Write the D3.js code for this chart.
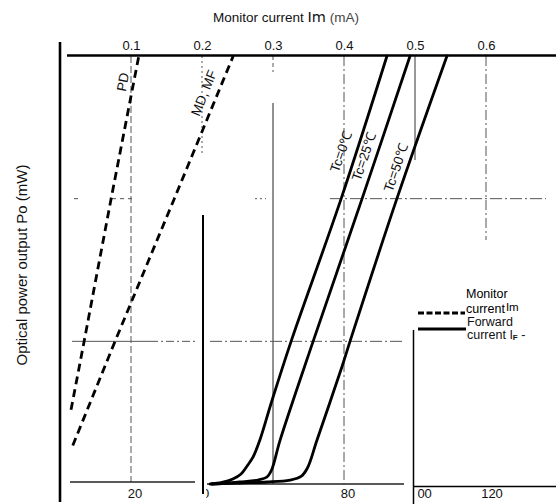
<!DOCTYPE html>
<html>
<head>
<meta charset="utf-8">
<script src="https://cdn.jsdelivr.net/npm/d3@7"></script>
<style>
  html, body { margin: 0; padding: 0; background: #fff; }
  svg { display: block; font-family: "Liberation Sans", Arial, Helvetica, sans-serif; }
</style>
</head>
<body>
<svg id="chart" width="556" height="504"></svg>
<script>
// ---- Data ----
// Monitor current Im (mA) tick labels on the top axis
const imTicks = [0.1, 0.2, 0.3, 0.4, 0.5, 0.6];
// Forward current IF (mA) tick labels on the bottom axis pieces
const ifTicksLeft = [20];
const ifTicksMid = [40, 80];
const ifTicksRight = [100, 120];
// Optical power output Po (mW) grid levels
const poGrid = [1, 2];

// Forward current curves: [IF mA, Po mW]
const tc0 = [[42.3,0],[45.6,0.011],[48.7,0.035],[51.0,0.07],[52.7,0.126],[54.4,0.19],[56.3,0.308],[59.5,0.568],[65.1,1.0],[79.2,2.0],[92.1,3.0]];
const tc25 = [[42.8,0],[50.7,0.014],[55.8,0.028],[58.3,0.049],[59.6,0.098],[62.0,0.308],[71.3,1.0],[85.1,2.0],[98.6,3.0]];
const tc50 = [[42.8,0],[50.7,0.007],[58.3,0.014],[64.8,0.028],[67.9,0.053],[69.7,0.112],[72.4,0.308],[79.4,0.82],[81.7,1.0],[94.9,2.0],[109.0,3.0]];
// Monitor current lines: [Im mA, Po mW]
const pd = [[0.0155,0.52],[0.034,1.0],[0.072,2.0],[0.111,3.0]];
const mdmf = [[0.018,0.27],[0.0775,1.0],[0.161,2.0],[0.244,3.0]];

const curveLabels = ["Tc=0℃", "Tc=25℃", "Tc=50℃"];

// ---- Scales ----
const xIm = d3.scaleLinear().domain([0, 0.7]).range([60, 557]);
const xIF = d3.scaleLinear().domain([0, 140]).range([60, 557]);
const yPo = d3.scaleLinear().domain([0, 3]).range([484, 56]);

const svg = d3.select("#chart");
const defs = svg.append("defs");
defs.append("clipPath").attr("id", "clipMid").append("rect").attr("x", 206.2).attr("y", 486).attr("width", 200).attr("height", 18);
defs.append("clipPath").attr("id", "clipRight").append("rect").attr("x", 417.5).attr("y", 486).attr("width", 140).attr("height", 18);

const grid = svg.append("g").attr("stroke", "#555").attr("stroke-width", 1).attr("fill", "none");

// vertical grid pieces
grid.append("line").attr("x1", xIm(0.1)).attr("x2", xIm(0.1)).attr("y1", 56).attr("y2", 482).attr("stroke-dasharray", "7,3");
grid.append("line").attr("x1", xIm(0.2)).attr("x2", xIm(0.2)).attr("y1", 56).attr("y2", 155).attr("stroke-dasharray", "2,3");
grid.append("line").attr("x1", xIm(0.3)).attr("x2", xIm(0.3)).attr("y1", 56).attr("y2", 72).attr("stroke-dasharray", "4,3");
grid.append("line").attr("x1", xIm(0.3)).attr("x2", xIm(0.3)).attr("y1", 103).attr("y2", 484).attr("stroke", "#222");
grid.append("line").attr("x1", xIm(0.4)).attr("x2", xIm(0.4)).attr("y1", 56).attr("y2", 484).attr("stroke-dasharray", "10,3,2,3");
grid.append("line").attr("x1", xIm(0.5)).attr("x2", xIm(0.5)).attr("y1", 56).attr("y2", 160).attr("stroke", "#333");
grid.append("line").attr("x1", xIm(0.6)).attr("x2", xIm(0.6)).attr("y1", 56).attr("y2", 240).attr("stroke-dasharray", "10,3,2,3");

// horizontal grid pieces
grid.append("line").attr("x1", 330).attr("x2", 546).attr("y1", yPo(poGrid[1])).attr("y2", yPo(poGrid[1])).attr("stroke-dasharray", "12,3,2,3");
grid.append("line").attr("x1", 255).attr("x2", 266).attr("y1", yPo(poGrid[1])).attr("y2", yPo(poGrid[1])).attr("stroke-dasharray", "2,3");
grid.append("line").attr("x1", 74).attr("x2", 78).attr("y1", yPo(poGrid[1])).attr("y2", yPo(poGrid[1]));
grid.append("line").attr("x1", 112).attr("x2", 134).attr("y1", yPo(poGrid[1])).attr("y2", yPo(poGrid[1])).attr("stroke-dasharray", "4,4");
grid.append("line").attr("x1", 72).attr("x2", 150).attr("y1", yPo(poGrid[0])).attr("y2", yPo(poGrid[0]));
grid.append("line").attr("x1", 150).attr("x2", 195).attr("y1", yPo(poGrid[0])).attr("y2", yPo(poGrid[0])).attr("stroke-dasharray", "8,3,2,3");
grid.append("line").attr("x1", 210).attr("x2", 405).attr("y1", yPo(poGrid[0])).attr("y2", yPo(poGrid[0])).attr("stroke-dasharray", "12,3,2,3");

// frame pieces
const frame = svg.append("g").attr("stroke", "#000").attr("fill", "none");
frame.append("line").attr("x1", 60).attr("x2", 60).attr("y1", 42).attr("y2", 502).attr("stroke-width", 2.6);
frame.append("line").attr("x1", 67).attr("x2", 556).attr("y1", 55.5).attr("y2", 55.5).attr("stroke-width", 2.4);
frame.append("line").attr("x1", 203).attr("x2", 203).attr("y1", 215).attr("y2", 494).attr("stroke-width", 2);
frame.append("line").attr("x1", 413.5).attr("x2", 413.5).attr("y1", 330).attr("y2", 504).attr("stroke-width", 1.5);
frame.append("line").attr("x1", 70).attr("x2", 195).attr("y1", 482).attr("y2", 482).attr("stroke-width", 1.6).attr("stroke", "#222");
frame.append("line").attr("x1", 207).attr("x2", 404).attr("y1", yPo(0)).attr("y2", yPo(0)).attr("stroke-width", 1.6).attr("stroke", "#222");
frame.append("line").attr("x1", 413).attr("x2", 556).attr("y1", 486.5).attr("y2", 486.5).attr("stroke-width", 1.5);

// top axis (monitor current)
const topAxis = svg.append("g").attr("transform", "translate(0,55)")
  .call(d3.axisTop(xIm).tickValues(imTicks).tickSize(0).tickPadding(5).tickFormat(d3.format(".1f")));
topAxis.select(".domain").remove();
topAxis.selectAll("text").attr("font-size", 13).attr("fill", "#111").attr("font-family", "Liberation Sans, Arial, sans-serif");

// bottom axis pieces (forward current)
{
  const gl = svg.append("g").attr("transform", "translate(0,486)");
  gl.call(d3.axisBottom(xIF).tickValues(ifTicksLeft).tickSize(0).tickPadding(3));
  gl.select(".domain").remove();
  gl.selectAll(".tick").attr("transform", d => `translate(${xIF(d) + 4},0)`);
  gl.selectAll("text").attr("font-size", 13).attr("fill", "#111");

  const gm = svg.append("g").attr("clip-path", "url(#clipMid)").append("g").attr("transform", "translate(0,486)");
  gm.call(d3.axisBottom(xIF).tickValues(ifTicksMid).tickSize(0).tickPadding(3));
  gm.select(".domain").remove();
  gm.selectAll(".tick").attr("transform", d => `translate(${xIF(d) + (d === 40 ? 0 : 4)},0)`);
  gm.selectAll("text").attr("font-size", 13).attr("fill", "#111");

  const gr = svg.append("g").attr("clip-path", "url(#clipRight)").append("g").attr("transform", "translate(0,486)");
  gr.call(d3.axisBottom(xIF).tickValues(ifTicksRight).tickSize(0).tickPadding(3));
  gr.select(".domain").remove();
  gr.selectAll(".tick").attr("transform", d => `translate(${xIF(d) + 6},0)`);
  gr.selectAll("text").attr("font-size", 13).attr("fill", "#111");
}

// Forward current curves
const lineIF = d3.line().x(d => xIF(d[0])).y(d => yPo(d[1])).curve(d3.curveCatmullRom.alpha(0.5));
svg.append("g").attr("fill", "none").attr("stroke", "#000").attr("stroke-width", 2.8).attr("stroke-linecap", "round")
  .selectAll("path").data([tc0, tc25, tc50]).join("path").attr("d", lineIF);

// Monitor current lines
const lineIm = d3.line().x(d => xIm(d[0])).y(d => yPo(d[1]));
svg.append("g").attr("fill", "none").attr("stroke", "#000").attr("stroke-width", 2.8).attr("stroke-dasharray", "8,5")
  .selectAll("path").data([pd, mdmf]).join("path").attr("d", lineIm);

// curve labels
const lab = svg.append("g").attr("font-size", 13.5).attr("fill", "#111").attr("text-anchor", "middle").attr("dominant-baseline", "central");
lab.append("text").attr("transform", "translate(123,82) rotate(-79)").text("PD");
lab.append("text").attr("transform", "translate(204,93) rotate(-68)").text("MD, MF");
const tcPos = [[341,152],[364,157],[396,168]];
curveLabels.forEach((t, i) => {
  lab.append("text").attr("transform", `translate(${tcPos[i][0]},${tcPos[i][1]}) rotate(-71)`).text(t);
});

// axis titles
const title = svg.append("text").attr("x", 286).attr("y", 22).attr("text-anchor", "middle").attr("font-size", 13.5).attr("fill", "#111");
title.append("tspan").text("Monitor current ");
title.append("tspan").attr("font-size", 14.5).attr("font-family", "DejaVu Sans").text("Im");
title.append("tspan").attr("fill", "#444").text(" (mA)");

svg.append("text").attr("transform", "translate(27,265) rotate(-90)").attr("text-anchor", "middle")
  .attr("font-size", 15).attr("fill", "#111").text("Optical power output Po (mW)");

// legend
const leg = svg.append("g").attr("font-size", 12.5).attr("fill", "#000");
leg.append("line").attr("x1", 418).attr("x2", 465).attr("y1", 313).attr("y2", 313).attr("stroke", "#000").attr("stroke-width", 3).attr("stroke-dasharray", "6,2.5");
leg.append("line").attr("x1", 418).attr("x2", 466).attr("y1", 329).attr("y2", 329).attr("stroke", "#000").attr("stroke-width", 3);
leg.append("text").attr("x", 466).attr("y", 298).text("Monitor");
const l2 = leg.append("text").attr("x", 466).attr("y", 313);
l2.append("tspan").text("current");
l2.append("tspan").attr("font-size", 11.5).attr("dy", -2).attr("dx", 1).text("Im");
leg.append("text").attr("x", 467).attr("y", 326).attr("fill", "#111").text("Forward");
const l4 = leg.append("text").attr("x", 467).attr("y", 339).attr("fill", "#111");
l4.append("tspan").text("current I");
l4.append("tspan").attr("font-size", 8).attr("font-weight", "bold").attr("dy", 1).text("F");
l4.append("tspan").attr("dy", -1).text(" -");
</script>
</body>
</html>
